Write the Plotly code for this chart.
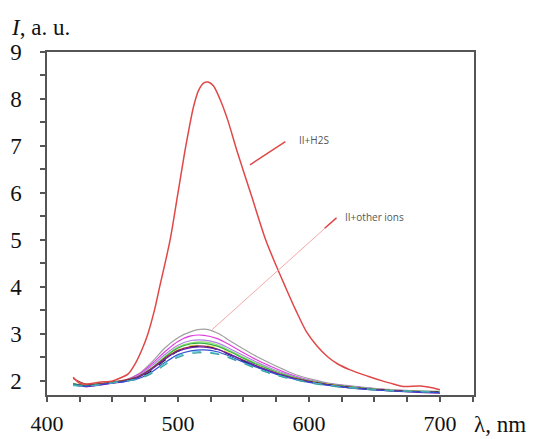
import plotly.graph_objects as go

# ---- data ----
wl_red = [420, 425, 430, 440, 450, 455, 462, 468, 473, 477, 482, 486, 494, 500, 506, 512, 516, 520, 523,
          527, 532, 538, 545, 556, 567, 575, 582, 590, 598, 606, 614, 622, 631, 645, 656, 665, 672, 685, 695, 700]
i_h2s = [2.08, 1.95, 1.93, 1.97, 2.00, 2.05, 2.15, 2.40, 2.70, 3.00, 3.50, 4.00, 5.00, 6.00, 7.00, 7.85, 8.20, 8.35, 8.36,
         8.28, 8.00, 7.55, 6.90, 5.95, 5.00, 4.45, 4.00, 3.50, 3.05, 2.75, 2.52, 2.36, 2.24, 2.10, 2.00, 1.93, 1.88, 1.89, 1.85, 1.81]

wl = [420, 430, 440, 450, 460, 470, 480, 490, 500, 510, 520, 530, 540, 550, 560, 570, 580, 590, 600, 620, 640, 660, 680, 700]

ion_gray = [1.95, 1.90, 1.93, 1.97, 2.02, 2.15, 2.40, 2.70, 2.92, 3.05, 3.10, 3.02, 2.85, 2.68, 2.52, 2.38, 2.25, 2.13, 2.05, 1.93, 1.87, 1.82, 1.79, 1.77]
ion_magenta = [1.92, 1.88, 1.92, 1.96, 2.02, 2.14, 2.36, 2.62, 2.84, 2.96, 2.97, 2.90, 2.76, 2.60, 2.45, 2.32, 2.20, 2.10, 2.02, 1.92, 1.86, 1.81, 1.79, 1.77]
ion_violet = [1.93, 1.90, 1.93, 1.97, 2.01, 2.12, 2.32, 2.56, 2.76, 2.86, 2.87, 2.81, 2.68, 2.54, 2.40, 2.28, 2.17, 2.08, 2.01, 1.92, 1.86, 1.81, 1.78, 1.76]
ion_lightgreen = [1.94, 1.91, 1.94, 1.98, 2.01, 2.10, 2.28, 2.52, 2.72, 2.81, 2.83, 2.77, 2.64, 2.50, 2.37, 2.25, 2.15, 2.07, 2.00, 1.91, 1.85, 1.81, 1.79, 1.78]
ion_green = [1.93, 1.90, 1.93, 1.97, 2.00, 2.08, 2.26, 2.50, 2.70, 2.79, 2.80, 2.74, 2.62, 2.48, 2.35, 2.24, 2.14, 2.06, 2.00, 1.91, 1.85, 1.80, 1.78, 1.77]
ion_yellow = [1.92, 1.89, 1.92, 1.96, 1.99, 2.07, 2.24, 2.47, 2.66, 2.75, 2.76, 2.70, 2.58, 2.45, 2.33, 2.22, 2.13, 2.05, 1.99, 1.91, 1.84, 1.80, 1.77, 1.75]
ion_darkred = [2.05, 1.93, 1.94, 1.98, 2.02, 2.10, 2.27, 2.48, 2.65, 2.73, 2.74, 2.68, 2.56, 2.43, 2.31, 2.21, 2.12, 2.05, 1.99, 1.90, 1.84, 1.80, 1.78, 1.76]
ion_black = [1.93, 1.90, 1.93, 1.96, 2.00, 2.07, 2.22, 2.44, 2.63, 2.72, 2.73, 2.67, 2.55, 2.42, 2.30, 2.20, 2.11, 2.04, 1.98, 1.90, 1.84, 1.80, 1.77, 1.76]
ion_purple = [1.92, 1.88, 1.91, 1.95, 1.99, 2.08, 2.25, 2.46, 2.63, 2.71, 2.72, 2.67, 2.56, 2.44, 2.32, 2.21, 2.12, 2.04, 1.98, 1.89, 1.83, 1.79, 1.76, 1.74]
ion_blue = [1.91, 1.89, 1.92, 1.96, 1.99, 2.05, 2.19, 2.39, 2.56, 2.64, 2.66, 2.62, 2.52, 2.40, 2.29, 2.19, 2.10, 2.03, 1.97, 1.89, 1.83, 1.79, 1.77, 1.75]
ion_cyan = [1.90, 1.89, 1.92, 1.96, 1.99, 2.05, 2.18, 2.37, 2.53, 2.61, 2.62, 2.58, 2.49, 2.38, 2.27, 2.17, 2.09, 2.02, 1.97, 1.89, 1.84, 1.80, 1.78, 1.77]
ion_teal = [1.92, 1.90, 1.93, 1.97, 2.00, 2.04, 2.16, 2.34, 2.50, 2.58, 2.60, 2.57, 2.48, 2.37, 2.26, 2.16, 2.08, 2.02, 1.96, 1.88, 1.83, 1.79, 1.77, 1.76]

x_ticks = [400, 500, 600, 700]
y_ticks = [2, 3, 4, 5, 6, 7, 8, 9]

ion_series = [
    (ion_gray, "#a0a0a0", "solid"),
    (ion_magenta, "#e040e0", "solid"),
    (ion_violet, "#b080e8", "solid"),
    (ion_lightgreen, "#90e070", "solid"),
    (ion_green, "#30b040", "solid"),
    (ion_yellow, "#e8e050", "dash"),
    (ion_darkred, "#a03030", "solid"),
    (ion_black, "#202020", "dash"),
    (ion_purple, "#6a20b0", "solid"),
    (ion_blue, "#3050d0", "solid"),
    (ion_cyan, "#50c8d8", "dash"),
    (ion_teal, "#40a0a0", "dash"),
]

fig = go.Figure()
for ys, col, dash in ion_series:
    fig.add_trace(go.Scatter(x=wl, y=ys, mode="lines", line=dict(color=col, width=1.2, dash=dash, shape="spline"),
                             showlegend=False, hoverinfo="skip"))
fig.add_trace(go.Scatter(x=wl_red, y=i_h2s, mode="lines",
                         line=dict(color="#e04848", width=1.5, shape="spline", smoothing=0.8),
                         showlegend=False, hoverinfo="skip"))

axis_font = dict(family="Liberation Serif, Times New Roman, serif", size=23, color="#111")
x_font = dict(family="Liberation Serif, Times New Roman, serif", size=22, color="#111")

fig.update_layout(
    width=533, height=439,
    margin=dict(l=47, r=59, t=52, b=44, autoexpand=False),
    paper_bgcolor="white", plot_bgcolor="white",
    xaxis=dict(range=[400, 726], tickvals=x_ticks, ticks="outside", ticklen=5, tickwidth=1.5, tickcolor="#555",
               showline=True, linecolor="#555", linewidth=1.5, mirror=True, showgrid=False, zeroline=False,
               tickfont=x_font, ticklabelstandoff=3, automargin=False,
               minor=dict(dtick=25, ticks="outside", ticklen=5, tickwidth=1.5, tickcolor="#555", showgrid=False)),
    yaxis=dict(range=[1.7, 9], tickvals=y_ticks, ticks="outside", ticklen=5, tickwidth=1.5, tickcolor="#555",
               showline=True, linecolor="#555", linewidth=1.5, mirror=True, showgrid=False, zeroline=False,
               tickfont=axis_font, ticklabelstandoff=14, automargin=False,
               minor=dict(dtick=0.5, ticks="outside", ticklen=5, tickwidth=1.5, tickcolor="#555", showgrid=False)),
)

fig.add_annotation(xref="paper", yref="paper", x=-0.09, y=1.03, xanchor="left", yanchor="bottom",
                   text="<i>I</i>, a. u.", showarrow=False,
                   font=dict(family="Liberation Serif, Times New Roman, serif", size=23, color="#111"))
fig.add_annotation(xref="paper", yref="paper", x=0.995, y=-0.085, xanchor="left", yanchor="middle",
                   text="λ, nm", showarrow=False,
                   font=dict(family="Liberation Serif, Times New Roman, serif", size=23, color="#111"))

lab_font = dict(family="Open Sans, Liberation Sans, sans-serif", size=10, color="#555")
fig.add_annotation(x=591, y=7.13, xanchor="left", yanchor="middle", text="II+H2S", showarrow=False, font=lab_font)
fig.add_annotation(x=626, y=5.49, xanchor="left", yanchor="middle", text="II+other ions", showarrow=False, font=lab_font)

fig.add_shape(type="line", x0=555, y0=6.6, x1=582, y1=7.09, line=dict(color="#e04848", width=1.5))
fig.add_shape(type="line", x0=526, y0=3.09, x1=621, y1=5.47, line=dict(color="#f5a8a8", width=1))
fig.add_shape(type="line", x0=612, y0=5.25, x1=621, y1=5.47, line=dict(color="#e04848", width=1.5))

fig.write_html("out.html")
